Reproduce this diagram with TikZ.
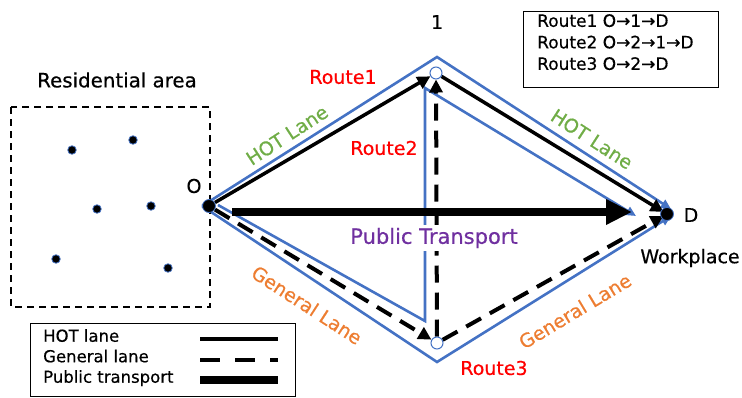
\documentclass[tikz,border=0pt]{standalone}
\usepackage{fontspec}
\setmainfont{DejaVu Sans}[FakeBold=0.5]
\usetikzlibrary{arrows.meta}
\definecolor{myblue}{HTML}{4472C4}
\definecolor{myred}{HTML}{FF0000}
\definecolor{mygreen}{HTML}{70AD47}
\definecolor{myorange}{HTML}{ED7D31}
\definecolor{mypurple}{HTML}{7030A0}
\pgfdeclarelayer{bg}
\pgfsetlayers{bg,main}
\tikzset{
  bdot/.style={circle,fill=black,draw=myblue,line width=0.8pt,minimum size=13pt,inner sep=0pt},
  odot/.style={circle,fill=white,draw=myblue,line width=1pt,minimum size=12pt,inner sep=0pt},
  hdot/.style={circle,fill=black,draw=myblue,line width=0.8pt,minimum size=8.5pt,inner sep=0pt},
  bluel/.style={draw=myblue,line width=2.6pt,-{Triangle[length=10pt,width=9pt]}},
  hotl/.style={draw=black,line width=3.5pt,-{Triangle[length=13pt,width=13pt]}},
  genl/.style={draw=black,line width=4pt,dash pattern=on 17pt off 10pt,-{Triangle[length=13pt,width=13pt]}},
  ptl/.style={draw=black,line width=8.5pt,-{Triangle[length=26pt,width=24pt]}},
  lbl/.style={font=\fontsize{19}{19}\selectfont,inner sep=1pt},
  rlbl/.style={lbl,text=myred},
  boxtxt/.style={font=\fontsize{17}{21.5}\selectfont,align=left,inner sep=0pt},
}
\begin{document}
\begin{tikzpicture}[x=1pt,y=-1pt]
\useasboundingbox (0,0) rectangle (742,397);
% residential area
\node[lbl,font=\fontsize{19.8}{20}\selectfont] (res) at (117,80) {Residential area};
\draw[line width=1.6pt,dash pattern=on 7pt off 5pt] (11,107) rectangle (210,307);
\node[hdot] (h1) at (72,150) {};
\node[hdot] (h2) at (133,140) {};
\node[hdot] (h3) at (97,209) {};
\node[hdot] (h4) at (151,206) {};
\node[hdot] (h5) at (56,259) {};
\node[hdot] (h6) at (168,268) {};
% main nodes
\node[bdot] (O) at (209,206) {};
\node[odot] (n1) at (436,73) {};
\node[odot] (n2) at (437,343) {};
\node[bdot] (D) at (667,214) {};
\coordinate (T) at (437,57);
\coordinate (B) at (437,362);
\coordinate (Dt) at (671,209);
\coordinate (Db) at (671,216);
\coordinate (Os) at (218,205);
\coordinate (I1) at (425,321);
\coordinate (I2) at (425,88);
\coordinate (Di) at (636,216);
\coordinate (PTs) at (232,212);
\coordinate (PT) at (632,212);
\begin{pgfonlayer}{bg}
\draw[bluel] (O.west) -- (T) -- (Dt);
\draw[bluel] (O.west) -- (B) -- (Db);
\draw[bluel] (Os) -- (I1) -- (I2) -- (Di);
\draw[hotl] (O) -- (n1);
\draw[hotl,shorten >=-3pt] (n1) -- (D);
\draw[genl] (O) -- (n2);
\draw[genl] (n2) -- (n1);
\draw[genl,shorten >=-3pt] (n2) -- (D);
\draw[ptl] (PTs) -- (PT);
\end{pgfonlayer}
% labels
\node[lbl] (lO) at (194,186) {O};
\node[lbl] (l1) at (437,22) {1};
\node[lbl] (lD) at (691,215) {D};
\node[lbl] (lW) at (690,258) {Workplace};
\node[rlbl] (r1) at (343,77) {Route1};
\node[rlbl] (r2) at (384,148) {Route2};
\node[rlbl] (r3) at (494,368) {Route3};
\node[lbl,text=mygreen,rotate=33] (hl1) at (287,135) {HOT Lane};
\node[lbl,text=mygreen,rotate=-33] (hl2) at (592,139) {HOT Lane};
\node[lbl,text=myorange,rotate=-33] (gl1) at (307,305) {General Lane};
\node[lbl,text=myorange,rotate=31] (gl2) at (575,311) {General Lane};
\node[lbl,font=\fontsize{21}{21}\selectfont,text=mypurple,fill=white,inner sep=3pt] (ptx) at (434,238) {Public Transport};
% route box
\draw[line width=1pt] (523,11) rectangle (718,87);
\node[boxtxt,anchor=north west] (rb) at (537,14) {Route1 O→1→D\\Route2 O→2→1→D\\Route3 O→2→D};
% legend
\draw[line width=1pt] (30,323) rectangle (295,396);
\node[boxtxt,font=\fontsize{16.5}{20.5}\selectfont,anchor=north west] (lg) at (43,329) {HOT lane\\General lane\\Public transport};
\coordinate (a1) at (200,339); \coordinate (a2) at (278,339);
\coordinate (b1) at (200,360); \coordinate (b2) at (278,360);
\coordinate (c1) at (200,380); \coordinate (c2) at (278,380);
\draw[line width=3.5pt] (a1) -- (a2);
\draw[line width=4pt,dash pattern=on 20pt off 15pt] (b1) -- (b2);
\draw[line width=8.5pt] (c1) -- (c2);
\end{tikzpicture}
\end{document}
